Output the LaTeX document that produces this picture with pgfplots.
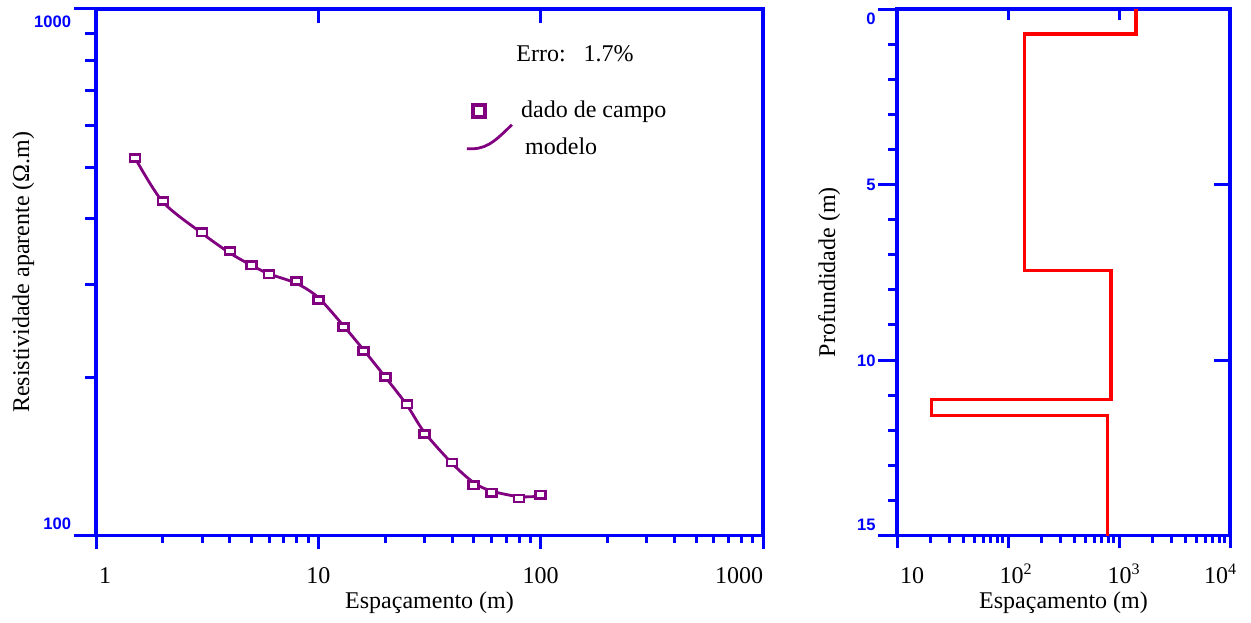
\documentclass[border=0pt]{standalone}
\usepackage{fontspec}
\setmainfont{Liberation Serif}
\newfontfamily\tickfont{Liberation Sans}
\usepackage{pgfplots}
\pgfplotsset{compat=1.18}
\definecolor{pblue}{RGB}{0,0,255}
\definecolor{ppurple}{RGB}{128,0,128}
\definecolor{pred}{RGB}{255,0,0}
\newcommand{\tf}{\tickfont\bfseries\fontsize{8.3}{10}\selectfont}
\newcommand{\mf}{\fontsize{12}{14}\selectfont}
\begin{document}
\begin{tikzpicture}
\path[use as bounding box] (0,0) rectangle (625.5pt,311pt);

% ---------------- LEFT: data + frame
\begin{axis}[scale only axis, width=333.5pt, height=263.25pt, at={(48pt,43.25pt)}, anchor=south west,
  xmode=log, ymode=log, xmin=1, xmax=1000, ymin=100, ymax=1000,
  axis line style={draw=pblue, line width=1.6pt}, xtick=\empty, ytick=\empty, tick style={draw=none},
  legend cell align=left,
  legend style={at={(0.5532,0.826)}, anchor=north west, draw=none, fill=none, inner sep=0pt,
    row sep=1.35pt, column sep=4pt, nodes={inner sep=0pt}, font=\mf}]
\addlegendimage{ppurple, legend image code/.code={
  \path[draw=none, fill=none] (0pt,0pt) -- (22.5pt,0pt);
  \draw[ppurple, line width=2pt, mark=square*, mark size=2.9pt, mark options={solid, fill=white}] plot coordinates {(6pt,0pt)};}}
\addlegendentry{dado de campo}
\addlegendimage{ppurple, line width=1.4pt, legend image code/.code={
  \draw[ppurple, line width=1.4pt] (0pt,-0.5pt) .. controls (9pt,-1pt) and (13pt,2pt) .. (22.5pt,11.5pt);}}
\addlegendentry{\hspace{2pt}modelo}
\addplot[ppurple, line width=1.4pt, smooth, forget plot] coordinates {
 (1.5,521) (2,430) (3,375) (4,344) (5,326) (6,314) (8,301) (10,283) (13,250) (16,225)
 (20,200) (25,177) (30,157) (40,137) (50,126) (60,121.5) (80,118.5) (100,118.8)};
\addplot[ppurple, only marks, mark=square*, mark size=2.5pt,
  mark options={fill=white, line width=1.3pt, yscale=0.72}, forget plot] coordinates {
 (1.5,521.6) (2,432.1) (3,376.7) (4,347.1) (5,326.1) (6,313.5) (8,304.1) (10,280.2) (13,248.9)
 (16,224.0) (20,200.0) (25,177.5) (30,155.8) (40,137.6) (50,124.5) (60,120.6) (80,117.6) (100,119.5)};
\node[anchor=base west, font=\mf, inner sep=0pt] at (rel axis cs:0.6297,0.9012) {Erro:\hspace{9pt}1.7\%};
\end{axis}

% bottom x ticks (outside)
\begin{axis}[scale only axis, width=333.5pt, height=263.25pt, at={(48pt,43.25pt)}, anchor=south west,
  xmode=log, ymode=log, xmin=1, xmax=1000, ymin=100, ymax=1000,
  axis line style={draw=none}, tick style={draw=pblue, line width=1.5pt},
  hide y axis, xtick pos=left, tick align=outside,
  major tick length=7pt, minor tick length=4pt,
  xtick={1,10,100,1000},
  xticklabels={\makebox[0pt][l]{\hspace{1.5pt}1},10,100,\makebox[0pt][r]{1000}},
  minor xtick={2,3,4,5,6,7,8,9,20,30,40,50,60,70,80,90,200,300,400,500,600,700,800,900},
  xticklabel style={anchor=base, inner sep=0pt, yshift=-17pt, font=\mf},
  xlabel={Espaçamento (m)},
  xlabel style={at={([yshift=-36.5pt]rel axis cs:0.5,0)}, anchor=base, font=\mf, inner sep=0pt}]
\end{axis}
% top x ticks (inside)
\begin{axis}[scale only axis, width=333.5pt, height=263.25pt, at={(48pt,43.25pt)}, anchor=south west,
  xmode=log, ymode=log, xmin=1, xmax=1000, ymin=100, ymax=1000,
  axis line style={draw=none}, tick style={draw=pblue, line width=1.5pt},
  hide y axis, xtick pos=right, tick align=inside,
  major tick length=7pt, minor tick style={draw=none},
  xtick={10,100}, xticklabels={}]
\end{axis}
% left y ticks (outside)
\begin{axis}[scale only axis, width=333.5pt, height=263.25pt, at={(48pt,43.25pt)}, anchor=south west,
  xmode=log, ymode=log, xmin=1, xmax=1000, ymin=100, ymax=1000,
  axis line style={draw=none}, tick style={draw=pblue, line width=1.5pt},
  hide x axis, ytick pos=left, tick align=outside,
  major tick length=11pt, minor tick length=5.5pt,
  ytick={100,1000},
  yticklabels={\raisebox{3pt}[0pt][0pt]{100},\raisebox{-9.5pt}[0pt][0pt]{1000}},
  minor ytick={200,300,400,500,600,700,800,900},
  yticklabel style={anchor=east, inner sep=0pt, xshift=-1.25pt, font=\tf, text=pblue},
  ylabel={Resistividade aparente (Ω.m)},
  ylabel style={at={([xshift=-33.5pt]rel axis cs:0,0.5)}, anchor=base, font=\mf, inner sep=0pt}]
\end{axis}

% ---------------- RIGHT: data + frame
\begin{axis}[scale only axis, width=166.5pt, height=263.25pt, at={(448.5pt,43.25pt)}, anchor=south west,
  xmode=log, xmin=10, xmax=10000, ymin=0, ymax=15, y dir=reverse,
  axis line style={draw=pblue, line width=1.6pt}, xtick=\empty, ytick=\empty, tick style={draw=none}]
\addplot[pred, line width=1.6pt] coordinates {
 (1423,0) (1423,0.71) (140,0.71) (140,7.46) (847,7.46) (847,11.13)
 (20.5,11.13) (20.5,11.59) (791,11.59) (791,15)};
\end{axis}
% bottom x ticks
\begin{axis}[scale only axis, width=166.5pt, height=263.25pt, at={(448.5pt,43.25pt)}, anchor=south west,
  xmode=log, xmin=10, xmax=10000, ymin=0, ymax=15, y dir=reverse,
  axis line style={draw=none}, tick style={draw=pblue, line width=1.5pt},
  hide y axis, xtick pos=left, tick align=outside,
  major tick length=6pt, minor tick length=3.5pt,
  xtick={10,100,1000,10000},
  xticklabels={\makebox[0pt][l]{\hspace{1.5pt}10},\makebox[0pt]{\hspace{8pt}10\textsuperscript{2}},\makebox[0pt]{\hspace{5pt}10\textsuperscript{3}},\makebox[0pt][r]{10\textsuperscript{4}\hspace{-3.5pt}}},
  minor xtick={20,30,40,50,60,70,80,90,200,300,400,500,600,700,800,900,2000,3000,4000,5000,6000,7000,8000,9000},
  xticklabel style={anchor=base, inner sep=0pt, yshift=-18pt, font=\mf},
  xlabel={Espaçamento (m)},
  xlabel style={at={([yshift=-36.5pt]rel axis cs:0.5,0)}, anchor=base, font=\mf, inner sep=0pt}]
\end{axis}
% top x ticks inside
\begin{axis}[scale only axis, width=166.5pt, height=263.25pt, at={(448.5pt,43.25pt)}, anchor=south west,
  xmode=log, xmin=10, xmax=10000, ymin=0, ymax=15, y dir=reverse,
  axis line style={draw=none}, tick style={draw=pblue, line width=1.5pt},
  hide y axis, xtick pos=right, tick align=inside,
  major tick length=5.5pt, minor tick style={draw=none},
  xtick={100,1000}, xticklabels={}]
\end{axis}
% left y ticks outside
\begin{axis}[scale only axis, width=166.5pt, height=263.25pt, at={(448.5pt,43.25pt)}, anchor=south west,
  xmode=log, xmin=10, xmax=10000, ymin=0, ymax=15, y dir=reverse,
  axis line style={draw=none}, tick style={draw=pblue, line width=1.5pt},
  hide x axis, ytick pos=left, tick align=outside,
  major tick length=9.5pt, minor tick length=4.5pt,
  ytick={0,5,10,15},
  yticklabels={\raisebox{-7.85pt}[0pt][0pt]{0},\raisebox{-3pt}[0pt][0pt]{5},\raisebox{-3pt}[0pt][0pt]{10},\raisebox{2.75pt}[0pt][0pt]{15}},
  minor ytick={1,2,3,4,6,7,8,9,11,12,13,14},
  yticklabel style={anchor=east, inner sep=0pt, xshift=-1pt, font=\tf, text=pblue},
  ylabel={Profundidade (m)},
  ylabel style={at={([xshift=-31pt]rel axis cs:0,0.5)}, anchor=base, font=\mf, inner sep=0pt}]
\end{axis}
% right y ticks inside
\begin{axis}[scale only axis, width=166.5pt, height=263.25pt, at={(448.5pt,43.25pt)}, anchor=south west,
  xmode=log, xmin=10, xmax=10000, ymin=0, ymax=15, y dir=reverse,
  axis line style={draw=none}, tick style={draw=pblue, line width=1.5pt},
  hide x axis, ytick pos=right, tick align=inside,
  major tick length=8pt, minor tick style={draw=none},
  ytick={5,10}, yticklabels={}]
\end{axis}
\end{tikzpicture}
\end{document}
